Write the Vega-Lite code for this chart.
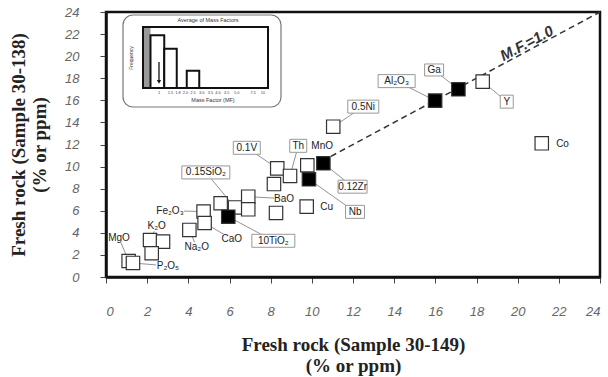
{
  "$schema": "https://vega.github.io/schema/vega-lite/v6.json",
  "width": 494,
  "height": 265,
  "autosize": {"type": "none"},
  "padding": {"left": 106, "top": 12, "right": 8, "bottom": 100},
  "background": "white",
  "config": {
    "view": {"stroke": "#111", "strokeWidth": 2.5},
    "axis": {
      "grid": false,
      "domainColor": "#111",
      "domainWidth": 2.5,
      "tickColor": "#444",
      "tickSize": 6,
      "tickWidth": 1,
      "labelFont": "Liberation Sans, DejaVu Sans, sans-serif",
      "labelFontStyle": "italic",
      "labelFontSize": 13,
      "labelColor": "#666",
      "titleFont": "Liberation Serif, DejaVu Serif, serif",
      "titleFontWeight": "bold",
      "titleFontSize": 19,
      "titleColor": "#222",
      "titleLineHeight": 21
    }
  },
  "datasets": {
    "diag": [{"x": 10.5, "y": 10.5}, {"x": 24, "y": 24}],
    "points": [
      {"x": 1.1, "y": 1.45, "type": "open"},
      {"x": 1.31, "y": 1.27, "type": "open"},
      {"x": 2.14, "y": 3.35, "type": "open"},
      {"x": 2.77, "y": 3.2, "type": "open"},
      {"x": 2.22, "y": 2.15, "type": "open"},
      {"x": 4.05, "y": 4.26, "type": "open"},
      {"x": 4.74, "y": 5.93, "type": "open"},
      {"x": 4.79, "y": 4.89, "type": "open"},
      {"x": 5.57, "y": 6.68, "type": "open"},
      {"x": 6.27, "y": 6.3, "type": "open"},
      {"x": 6.91, "y": 7.27, "type": "open"},
      {"x": 6.91, "y": 6.13, "type": "open"},
      {"x": 8.16, "y": 8.42, "type": "open"},
      {"x": 8.26, "y": 5.8, "type": "open"},
      {"x": 8.32, "y": 9.84, "type": "open"},
      {"x": 8.94, "y": 9.15, "type": "open"},
      {"x": 9.78, "y": 10.12, "type": "open"},
      {"x": 9.75, "y": 6.37, "type": "open"},
      {"x": 11.04, "y": 13.61, "type": "open"},
      {"x": 18.3, "y": 17.69, "type": "open"},
      {"x": 21.17, "y": 12.11, "type": "open"},
      {"x": 5.94, "y": 5.46, "type": "filled"},
      {"x": 9.86, "y": 8.85, "type": "filled"},
      {"x": 10.56, "y": 10.3, "type": "filled"},
      {"x": 15.99, "y": 15.97, "type": "filled"},
      {"x": 17.12, "y": 17.0, "type": "filled"}
    ],
    "labels": [
      {"label": "MgO", "x": 0.63, "y": 3.53, "px": 1.1, "py": 1.45, "boxed": false},
      {"label": "P₂O₅", "x": 3.01, "y": 1.0, "px": 1.31, "py": 1.27, "boxed": false},
      {"label": "K₂O", "x": 2.46, "y": 4.6, "px": 2.14, "py": 3.35, "boxed": false},
      {"label": "Fe₂O₃", "x": 3.11, "y": 6.0, "px": 4.74, "py": 5.93, "boxed": false},
      {"label": "Na₂O", "x": 4.41, "y": 2.69, "px": 4.05, "py": 4.26, "boxed": false},
      {"label": "CaO", "x": 6.11, "y": 3.44, "px": 4.79, "py": 4.89, "boxed": false},
      {"label": "10TiO₂", "x": 8.13, "y": 3.28, "px": 5.94, "py": 5.46, "boxed": true},
      {"label": "0.15SiO₂", "x": 4.85, "y": 9.47, "px": 6.27, "py": 6.3, "boxed": true},
      {"label": "BaO", "x": 8.65, "y": 7.1, "px": 6.91, "py": 7.27, "boxed": false},
      {"label": "0.1V", "x": 6.84, "y": 11.7, "px": 8.32, "py": 9.84, "boxed": true},
      {"label": "Th", "x": 9.34, "y": 11.88, "px": 8.94, "py": 9.15, "boxed": true},
      {"label": "MnO", "x": 10.5, "y": 11.87, "px": null, "py": null, "boxed": false},
      {"label": "0.12Zr", "x": 11.98, "y": 8.18, "px": 10.56, "py": 10.3, "boxed": true},
      {"label": "Nb", "x": 12.1, "y": 5.9, "px": 9.86, "py": 8.85, "boxed": true},
      {"label": "Cu", "x": 10.72, "y": 6.3, "px": null, "py": null, "boxed": false},
      {"label": "0.5Ni", "x": 12.5, "y": 15.43, "px": 11.04, "py": 13.61, "boxed": true},
      {"label": "Al₂O₃", "x": 14.12, "y": 17.74, "px": 15.99, "py": 15.97, "boxed": true},
      {"label": "Ga", "x": 15.94, "y": 18.75, "px": 17.12, "py": 17.0, "boxed": true},
      {"label": "Y", "x": 19.47, "y": 15.88, "px": 18.3, "py": 17.69, "boxed": true},
      {"label": "Co", "x": 22.18, "y": 12.03, "px": null, "py": null, "boxed": false}
    ],
    "mf": [{"x": 20.44, "y": 21.16, "t": "M.F.=1.0"}],
    "insetBox": [{"ix": -1.6, "ix2": 11.04, "iy": 14.36, "iy2": -3.74}],
    "grayBar": [{"ix": 0, "ix2": 0.6, "iy": 0, "iy2": 12}],
    "bars": [
      {"ix": 0.6, "ix2": 1.7, "iy": 0, "iy2": 10.4},
      {"ix": 1.7, "ix2": 2.7, "iy": 0, "iy2": 7.7},
      {"ix": 3.5, "ix2": 4.5, "iy": 0, "iy2": 3.4}
    ],
    "frame": [{"ix": 0, "ix2": 10, "iy": 0, "iy2": 12}],
    "arrow": [{"ix": 1.28, "iy": 5.1, "iy2": 1.2}],
    "insetText": [
      {"t": "Average of Mass Factors", "ix": 5.2, "iy": 13.4, "kind": "title"},
      {"t": "Mass Factor (MF)", "ix": 5.6, "iy": -2.4, "kind": "axis"}
    ],
    "insetTicks": [
      {"t": "1", "ix": 1.28, "iy": -0.98},
      {"t": "1.5", "ix": 2.2, "iy": -0.98},
      {"t": "1.8", "ix": 2.8, "iy": -0.98},
      {"t": "2.0", "ix": 3.4, "iy": -0.98},
      {"t": "2.5", "ix": 4.0, "iy": -0.98},
      {"t": "3.0", "ix": 4.7, "iy": -0.98},
      {"t": "3.5", "ix": 5.4, "iy": -0.98},
      {"t": "4.0", "ix": 6.0, "iy": -0.98},
      {"t": "4.5", "ix": 6.7, "iy": -0.98},
      {"t": "5.0", "ix": 7.5, "iy": -0.98},
      {"t": "7.5", "ix": 8.8, "iy": -0.98},
      {"t": "10", "ix": 9.6, "iy": -0.98}
    ],
    "insetY": [{"t": "Frequency", "ix": -1.0, "iy": 5.9}]
  },
  "layer": [
    {
      "encoding": {
        "x": {
          "field": "x",
          "type": "quantitative",
          "scale": {"domain": [0, 24], "nice": false, "zero": false},
          "axis": {
            "values": [0, 2, 4, 6, 8, 10, 12, 14, 16, 18, 20, 22, 24],
            "labelPadding": 22,
            "titlePadding": 17,
            "title": ["Fresh rock (Sample 30-149)", "(% or ppm)"]
          }
        },
        "y": {
          "field": "y",
          "type": "quantitative",
          "scale": {"domain": [0, 24], "nice": false, "zero": false},
          "axis": {
            "values": [0, 2, 4, 6, 8, 10, 12, 14, 16, 18, 20, 22, 24],
            "labelPadding": 21,
            "titlePadding": 15,
            "title": ["Fresh rock (Sample 30-138)", "(% or ppm)"]
          }
        }
      },
      "layer": [
        {
          "data": {"name": "diag"},
          "mark": {"type": "line", "strokeDash": [6, 4], "color": "#333", "strokeWidth": 1.5}
        },
        {
          "data": {"name": "labels"},
          "transform": [{"filter": "isValid(datum.px)"}],
          "mark": {"type": "rule", "color": "#777", "strokeWidth": 0.8},
          "encoding": {
            "x": {"field": "px", "type": "quantitative"},
            "y": {"field": "py", "type": "quantitative"},
            "x2": {"field": "x"},
            "y2": {"field": "y"}
          }
        },
        {
          "data": {"name": "labels"},
          "transform": [{"filter": "!datum.boxed"}],
          "mark": {"type": "point", "filled": true, "fill": "white", "strokeWidth": 0, "size": 4, "opacity": 1},
          "encoding": {
            "shape": {
              "field": "label",
              "type": "nominal",
              "legend": null,
              "scale": {
                "domain": ["MgO", "P₂O₅", "K₂O", "Fe₂O₃", "Na₂O", "CaO", "BaO", "MnO", "Cu", "Co", "10TiO₂", "0.15SiO₂", "0.1V", "Th", "0.12Zr", "Nb", "0.5Ni", "Al₂O₃", "Ga", "Y"],
                "range": ["M-11,-5H11V5H-11Z", "M-12,-5H12V5H-12Z", "M-10,-5H10V5H-10Z", "M-14,-5H14V5H-14Z", "M-12,-5H12V5H-12Z", "M-10,-5H10V5H-10Z", "M-10,-5H10V5H-10Z", "M-11,-5H11V5H-11Z", "M-7,-5H7V5H-7Z", "M-7,-5H7V5H-7Z", "M-21.5,-6.5H21.5V6.5H-21.5Z", "M-24,-6.5H24V6.5H-24Z", "M-13.5,-6.5H13.5V6.5H-13.5Z", "M-8.5,-6.5H8.5V6.5H-8.5Z", "M-14.5,-6.5H14.5V6.5H-14.5Z", "M-9.5,-6.5H9.5V6.5H-9.5Z", "M-15.5,-6.5H15.5V6.5H-15.5Z", "M-18.5,-6.5H18.5V6.5H-18.5Z", "M-9.5,-6H9.5V6H-9.5Z", "M-6.5,-6.5H6.5V6.5H-6.5Z"]
              }
            }
          }
        },
        {
          "data": {"name": "points"},
          "mark": {"type": "point", "shape": "square", "size": 180, "filled": true, "stroke": "#333", "strokeWidth": 1.2, "opacity": 1},
          "encoding": {
            "fill": {
              "field": "type",
              "type": "nominal",
              "legend": null,
              "scale": {"domain": ["open", "filled"], "range": ["white", "black"]}
            }
          }
        },
        {
          "data": {"name": "labels"},
          "transform": [{"filter": "datum.boxed"}],
          "mark": {"type": "point", "filled": true, "fill": "white", "stroke": "#999", "strokeWidth": 1, "size": 4, "opacity": 1},
          "encoding": {
            "shape": {
              "field": "label",
              "type": "nominal",
              "legend": null,
              "scale": {
                "domain": ["MgO", "P₂O₅", "K₂O", "Fe₂O₃", "Na₂O", "CaO", "BaO", "MnO", "Cu", "Co", "10TiO₂", "0.15SiO₂", "0.1V", "Th", "0.12Zr", "Nb", "0.5Ni", "Al₂O₃", "Ga", "Y"],
                "range": ["M-11,-5H11V5H-11Z", "M-12,-5H12V5H-12Z", "M-10,-5H10V5H-10Z", "M-14,-5H14V5H-14Z", "M-12,-5H12V5H-12Z", "M-10,-5H10V5H-10Z", "M-10,-5H10V5H-10Z", "M-11,-5H11V5H-11Z", "M-7,-5H7V5H-7Z", "M-7,-5H7V5H-7Z", "M-21.5,-6.5H21.5V6.5H-21.5Z", "M-24,-6.5H24V6.5H-24Z", "M-13.5,-6.5H13.5V6.5H-13.5Z", "M-8.5,-6.5H8.5V6.5H-8.5Z", "M-14.5,-6.5H14.5V6.5H-14.5Z", "M-9.5,-6.5H9.5V6.5H-9.5Z", "M-15.5,-6.5H15.5V6.5H-15.5Z", "M-18.5,-6.5H18.5V6.5H-18.5Z", "M-9.5,-6H9.5V6H-9.5Z", "M-6.5,-6.5H6.5V6.5H-6.5Z"]
              }
            }
          }
        },
        {
          "data": {"name": "labels"},
          "mark": {"type": "text", "font": "Liberation Sans, DejaVu Sans, sans-serif", "fontSize": 10, "color": "#222", "align": "center", "baseline": "middle"},
          "encoding": {"text": {"field": "label"}}
        },
        {
          "data": {"name": "mf"},
          "mark": {"type": "text", "font": "Liberation Sans, DejaVu Sans, sans-serif", "fontSize": 15, "fontStyle": "italic", "fontWeight": "bold", "color": "#333", "angle": 332, "align": "center", "baseline": "middle"},
          "encoding": {"text": {"field": "t"}}
        }
      ]
    },
    {
      "encoding": {
        "x": {"field": "ix", "type": "quantitative", "axis": null, "scale": {"domain": [0, 10], "range": [37, 162], "nice": false, "zero": false}},
        "y": {"field": "iy", "type": "quantitative", "axis": null, "scale": {"domain": [0, 12], "range": [76, 15], "nice": false, "zero": false}}
      },
      "layer": [
        {
          "data": {"name": "insetBox"},
          "mark": {"type": "rect", "fill": "white", "stroke": "#777", "strokeWidth": 1.2, "cornerRadius": 10},
          "encoding": {"x2": {"field": "ix2"}, "y2": {"field": "iy2"}}
        },
        {
          "data": {"name": "grayBar"},
          "mark": {"type": "rect", "fill": "#999", "strokeWidth": 0},
          "encoding": {"x2": {"field": "ix2"}, "y2": {"field": "iy2"}}
        },
        {
          "data": {"name": "bars"},
          "mark": {"type": "rect", "fill": "white", "stroke": "#111", "strokeWidth": 2},
          "encoding": {"x2": {"field": "ix2"}, "y2": {"field": "iy2"}}
        },
        {
          "data": {"name": "frame"},
          "mark": {"type": "rect", "fill": null, "fillOpacity": 0, "stroke": "#111", "strokeWidth": 2},
          "encoding": {"x2": {"field": "ix2"}, "y2": {"field": "iy2"}}
        },
        {
          "data": {"name": "arrow"},
          "mark": {"type": "rule", "color": "#111", "strokeWidth": 1.3},
          "encoding": {"y2": {"field": "iy2"}}
        },
        {
          "data": {"name": "arrow"},
          "mark": {"type": "point", "shape": "triangle-down", "filled": true, "color": "#111", "size": 18, "opacity": 1},
          "encoding": {"y": {"field": "iy2", "type": "quantitative"}}
        },
        {
          "data": {"name": "insetText"},
          "mark": {"type": "text", "font": "Liberation Sans, DejaVu Sans, sans-serif", "fontSize": 5.5, "color": "#333", "align": "center", "baseline": "middle"},
          "encoding": {"text": {"field": "t"}}
        },
        {
          "data": {"name": "insetTicks"},
          "mark": {"type": "text", "font": "Liberation Sans, DejaVu Sans, sans-serif", "fontSize": 4, "color": "#444", "align": "center", "baseline": "middle"},
          "encoding": {"text": {"field": "t"}}
        },
        {
          "data": {"name": "insetY"},
          "mark": {"type": "text", "font": "Liberation Sans, DejaVu Sans, sans-serif", "fontSize": 5, "color": "#333", "angle": 270, "align": "center", "baseline": "middle"},
          "encoding": {"text": {"field": "t"}}
        }
      ]
    }
  ],
  "resolve": {"scale": {"x": "independent", "y": "independent"}}
}
